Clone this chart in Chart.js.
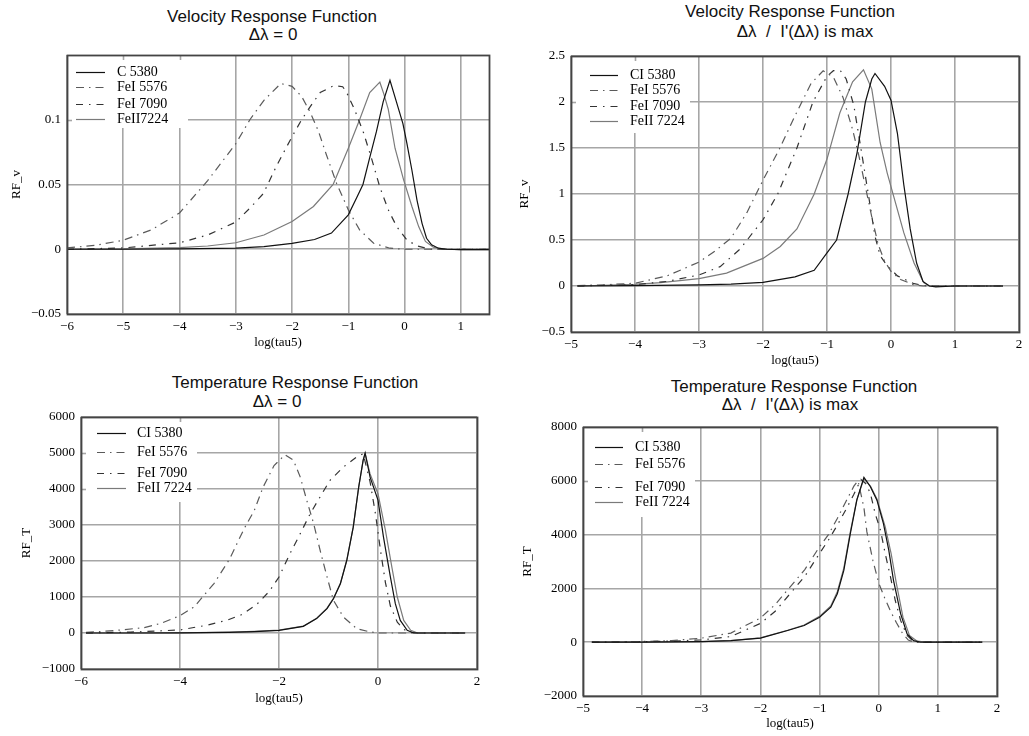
<!DOCTYPE html>
<html>
<head>
<meta charset="utf-8">
<title>Response Functions</title>
<script src="https://cdn.jsdelivr.net/npm/chart.js@4.4.1/dist/chart.umd.min.js"></script>
<style>
  html, body { margin: 0; padding: 0; background: #fff; overflow: hidden; }
  body { width: 1029px; height: 736px; position: relative; }
  .panel { position: absolute; }
  .ttl { position: absolute; transform: translate(-50%, -50%); white-space: pre;
         font: 17px "Liberation Sans", Arial, sans-serif; color: #111; }
</style>
</head>
<body>

<div class="ttl" style="left:272px;top:17px">Velocity Response Function</div>
<div class="ttl" style="left:273px;top:35px">Δλ = 0</div>
<div class="ttl" style="left:790px;top:12px">Velocity Response Function</div>
<div class="ttl" style="left:805px;top:32px">Δλ  /  I'(Δλ) is max</div>
<div class="ttl" style="left:295px;top:383px">Temperature Response Function</div>
<div class="ttl" style="left:277px;top:402px">Δλ = 0</div>
<div class="ttl" style="left:794px;top:387px">Temperature Response Function</div>
<div class="ttl" style="left:790px;top:405px">Δλ  /  I'(Δλ) is max</div>

<div class="panel" style="left:9px;top:39px;width:492px;height:311px"><canvas id="velZero"></canvas></div>
<div class="panel" style="left:517px;top:40px;width:514px;height:328px"><canvas id="velMax"></canvas></div>
<div class="panel" style="left:19px;top:401px;width:470px;height:305px"><canvas id="tempZero"></canvas></div>
<div class="panel" style="left:520px;top:411px;width:489px;height:320px"><canvas id="tempMax"></canvas></div>

<script>
// ---- legend labels ----
const labelsVelZero = ["C 5380", "FeI 5576", "FeI 7090", "FeII7224"];
const labelsOther = ["CI 5380", "FeI 5576", "FeI 7090", "FeII 7224"];

// ---- tick values ----
const velZeroXTicks = [-6, -5, -4, -3, -2, -1, 0, 1];
const velZeroYTicks = [-0.05, 0, 0.05, 0.1];
const velMaxXTicks = [-5, -4, -3, -2, -1, 0, 1, 2];
const velMaxYTicks = [-0.5, 0, 0.5, 1, 1.5, 2, 2.5];
const tempZeroXTicks = [-6, -4, -2, 0, 2];
const tempZeroYTicks = [-1000, 0, 1000, 2000, 3000, 4000, 5000, 6000];
const tempMaxXTicks = [-5, -4, -3, -2, -1, 0, 1, 2];
const tempMaxYTicks = [-2000, 0, 2000, 4000, 6000, 8000];

// ---- Velocity RF, dl = 0 ----
const velZeroX_ci = [-6, -5, -4, -3, -2.5, -2, -1.6, -1.3, -1, -0.85, -0.74, -0.63, -0.5, -0.38, -0.26, -0.14, -0.03, 0.04, 0.13, 0.22, 0.31, 0.39, 0.48, 0.6, 0.75, 1, 1.5];
const velZeroY_ci = [0, 0, 0.0003, 0.0008, 0.002, 0.0046, 0.0075, 0.0125, 0.0266, 0.04, 0.05, 0.069, 0.091, 0.114, 0.1305, 0.113, 0.097, 0.082, 0.061, 0.038, 0.02, 0.0085, 0.0034, 0.0008, 0, -0.0003, -0.0003];
const velZeroX_fe5576 = [-6, -5.5, -5, -4.5, -4, -3.5, -3, -2.75, -2.5, -2.2, -2, -1.83, -1.68, -1.53, -1.39, -1.21, -1, -0.8, -0.55, -0.26, 0, 0.5, 1.5];
const velZeroY_fe5576 = [0.001, 0.003, 0.007, 0.015, 0.028, 0.053, 0.0815, 0.1, 0.115, 0.128, 0.1258, 0.118, 0.106, 0.091, 0.073, 0.051, 0.0304, 0.015, 0.0046, 0.0008, 0, 0, 0];
const velZeroX_fe7090 = [-6, -5, -4, -3.5, -3, -2.75, -2.51, -2.28, -2, -1.83, -1.68, -1.5, -1.25, -1.1, -1.03, -0.89, -0.73, -0.58, -0.44, -0.29, -0.14, 0.04, 0.22, 0.45, 1.5];
const velZeroY_fe7090 = [0, 0.001, 0.005, 0.011, 0.021, 0.0317, 0.043, 0.064, 0.087, 0.1, 0.11, 0.121, 0.1265, 0.1255, 0.121, 0.108, 0.09, 0.069, 0.048, 0.0304, 0.0175, 0.0072, 0.0026, 0, 0];
const velZeroX_fe2 = [-6, -5, -4, -3.5, -3, -2.5, -2, -1.62, -1.27, -1, -0.8, -0.62, -0.44, -0.37, -0.29, -0.17, -0.02, 0.13, 0.25, 0.37, 0.51, 0.69, 1, 1.5];
const velZeroY_fe2 = [0, 0.0003, 0.0012, 0.0025, 0.005, 0.011, 0.0214, 0.033, 0.05, 0.078, 0.1, 0.121, 0.129, 0.12, 0.108, 0.078, 0.054, 0.033, 0.0175, 0.006, 0.0015, 0, -0.0003, -0.0003];

// ---- Velocity RF, dl where I'(dl) is max ----
const velMaxX_ci = [-4.9, -4, -3, -2.5, -2, -1.5, -1.2, -1, -0.85, -0.67, -0.53, -0.4, -0.3, -0.25, -0.1, 0, 0.1, 0.2, 0.3, 0.4, 0.5, 0.6, 0.7, 1, 1.75];
const velMaxY_ci = [0, 0.005, 0.012, 0.02, 0.04, 0.1, 0.17, 0.36, 0.5, 1, 1.45, 2, 2.25, 2.31, 2.17, 2.02, 1.66, 1.1, 0.62, 0.25, 0.05, 0, -0.01, 0, 0];
const velMaxX_fe5576 = [-4.9, -4.5, -4, -3.5, -3, -2.75, -2.5, -2.25, -2, -1.75, -1.5, -1.25, -1.06, -0.9, -0.75, -0.6, -0.5, -0.4, -0.3, -0.2, -0.1, 0, 0.15, 0.35, 0.5, 1, 1.75];
const velMaxY_fe5576 = [0.005, 0.012, 0.03, 0.11, 0.26, 0.38, 0.52, 0.8, 1.15, 1.48, 1.85, 2.2, 2.34, 2.27, 2.05, 1.7, 1.41, 1.08, 0.75, 0.45, 0.27, 0.16, 0.07, 0.015, 0, 0, 0];
const velMaxX_fe7090 = [-4.9, -4, -3.5, -3, -2.67, -2.36, -2, -1.77, -1.47, -1.22, -1, -0.9, -0.79, -0.7, -0.58, -0.45, -0.35, -0.25, -0.17, -0.06, 0.1, 0.36, 0.57, 1, 1.75];
const velMaxY_fe7090 = [0, 0.015, 0.05, 0.12, 0.21, 0.4, 0.72, 1, 1.5, 2, 2.28, 2.34, 2.34, 2.25, 1.96, 1.41, 0.98, 0.54, 0.33, 0.22, 0.11, 0.025, 0, 0, 0];
const velMaxX_fe2 = [-4.9, -4, -3.6, -3, -2.57, -2, -1.73, -1.47, -1.2, -1, -0.8, -0.6, -0.43, -0.3, -0.17, -0.06, 0.04, 0.2, 0.36, 0.51, 0.6, 1, 1.75];
const velMaxY_fe2 = [0, 0.018, 0.036, 0.08, 0.14, 0.3, 0.43, 0.62, 1, 1.38, 1.88, 2.22, 2.35, 2.14, 1.56, 1.23, 0.98, 0.58, 0.25, 0.036, 0, 0, 0];

// ---- Temperature RF, dl = 0 ----
const tempZeroX_ci = [-5.9, -5, -4, -3, -2.5, -2, -1.51, -1.24, -1.03, -0.9, -0.76, -0.63, -0.5, -0.39, -0.3, -0.26, -0.16, 0, 0.11, 0.25, 0.35, 0.45, 0.59, 0.72, 1, 1.76];
const tempZeroY_ci = [0, 0, 5, 20, 40, 75, 185, 400, 675, 950, 1370, 2020, 2940, 4055, 4800, 5000, 4330, 3690, 2670, 1560, 815, 350, 75, 0, 0, 0];
const tempZeroX_fe5576 = [-5.9, -5.5, -5.19, -4.72, -4.38, -4, -3.71, -3.31, -3, -2.7, -2.5, -2.32, -2.1, -1.88, -1.71, -1.57, -1.44, -1.3, -1.17, -1.03, -0.9, -0.7, -0.43, -0.16, 0, 1, 1.76];
const tempZeroY_fe5576 = [20, 50, 85, 150, 270, 480, 730, 1380, 2050, 2910, 3400, 4055, 4650, 4950, 4800, 4330, 3690, 3040, 2300, 1560, 910, 445, 120, 30, 0, 0, 0];
const tempZeroX_fe7090 = [-5.9, -5, -4.72, -4, -3.44, -3.04, -2.77, -2.46, -2.2, -2, -1.78, -1.57, -1.37, -1.17, -0.97, -0.7, -0.43, -0.3, -0.16, -0.05, 0.05, 0.15, 0.25, 0.39, 0.52, 0.66, 0.8, 1.76];
const tempZeroY_fe7090 = [0, 25, 40, 85, 220, 360, 500, 780, 1150, 1555, 2200, 2760, 3315, 3780, 4240, 4610, 4890, 4980, 4200, 3300, 2300, 1400, 750, 300, 100, 20, 0, 0];
const tempZeroX_fe2 = [-5.9, -5, -4, -3, -2.5, -2, -1.51, -1.24, -1.03, -0.9, -0.76, -0.63, -0.5, -0.39, -0.3, -0.26, -0.16, 0, 0.15, 0.28, 0.39, 0.52, 0.66, 0.8, 1, 1.76];
const tempZeroY_fe2 = [0, 0, 5, 25, 45, 80, 190, 410, 690, 960, 1380, 2030, 2950, 4050, 4790, 4980, 4420, 3870, 2850, 1830, 1000, 350, 75, 0, 0, 0];

// ---- Temperature RF, dl where I'(dl) is max ----
const tempMaxX_ci = [-4.85, -4, -3, -2.5, -2, -1.54, -1.26, -1, -0.81, -0.7, -0.59, -0.48, -0.37, -0.25, -0.14, -0.03, 0.08, 0.17, 0.25, 0.37, 0.48, 0.59, 0.7, 1, 1.75];
const tempMaxY_ci = [0, 0, 25, 60, 150, 435, 620, 930, 1300, 1800, 2670, 4040, 5280, 6125, 5780, 5280, 4410, 3420, 2300, 1060, 310, 60, 0, 0, 0];
const tempMaxX_fe5576 = [-4.85, -4, -3.5, -3, -2.5, -2, -1.75, -1.5, -1.25, -1, -0.85, -0.7, -0.55, -0.42, -0.35, -0.25, -0.2, -0.1, 0, 0.1, 0.2, 0.3, 0.4, 0.5, 0.6, 1, 1.75];
const tempMaxY_fe5576 = [0, 25, 60, 150, 340, 900, 1400, 2050, 2700, 3550, 4000, 4600, 5250, 5800, 6000, 5000, 4100, 3050, 2200, 1650, 1150, 720, 340, 80, 0, 0, 0];
const tempMaxX_fe7090 = [-4.85, -4, -3.5, -3, -2.5, -2, -1.75, -1.5, -1.25, -1, -0.85, -0.7, -0.55, -0.42, -0.3, -0.22, -0.14, -0.06, 0.03, 0.11, 0.2, 0.28, 0.37, 0.48, 0.6, 1, 1.75];
const tempMaxY_fe7090 = [0, 20, 40, 85, 210, 700, 1150, 1800, 2450, 3300, 3800, 4350, 4950, 5500, 6050, 5900, 5530, 4780, 4160, 3290, 2420, 1550, 810, 250, 0, 0, 0];
const tempMaxX_fe2 = [-4.85, -4, -3, -2.5, -2, -1.54, -1.26, -1, -0.81, -0.7, -0.59, -0.48, -0.37, -0.25, -0.14, -0.03, 0.11, 0.21, 0.3, 0.41, 0.52, 0.65, 0.8, 1, 1.75];
const tempMaxY_fe2 = [0, 0, 25, 60, 160, 445, 640, 960, 1350, 1880, 2750, 4100, 5300, 6080, 5800, 5320, 4290, 3290, 2170, 930, 250, 40, 0, 0, 0];

// line look per series: CI, FeI 5576, FeI 7090, FeII
const STYLES = [
    { color: "#111111", dash: [] },
    { color: "#5a5a5a", dash: [8, 5, 1.5, 5] },
    { color: "#333333", dash: [7, 6, 1.5, 6] },
    { color: "#7a7a7a", dash: [] }
];
const GRID = "#a6a6a6";
const SERIF = "'Liberation Serif', 'Times New Roman', serif";

const minus = v => String(v).replace("-", "\u2212");

// white key box in the upper left corner of the plot, plus the plot frame
const frameKey = {
    id: "frameKey",
    beforeDatasetsDraw(chart, args, opts) {
        const { ctx, chartArea: a } = chart;
        const k = opts.key;
        ctx.save();
        ctx.fillStyle = "#fff";
        ctx.fillRect(a.left, a.top, k.w, k.h);

        // the short inner ticks stay visible over the box
        ctx.strokeStyle = GRID;
        ctx.lineWidth = 1.6;
        chart.scales.x.ticks.forEach(t => {
            const px = Math.round(chart.scales.x.getPixelForValue(t.value)) + 0.5;
            if (px > a.left + 2 && px < a.left + k.w) {
                ctx.beginPath(); ctx.moveTo(px, a.top); ctx.lineTo(px, a.top + 5); ctx.stroke();
            }
        });
        chart.scales.y.ticks.forEach(t => {
            const py = Math.round(chart.scales.y.getPixelForValue(t.value)) + 0.5;
            if (py > a.top + 2 && py < a.top + k.h) {
                ctx.beginPath(); ctx.moveTo(a.left, py); ctx.lineTo(a.left + 5, py); ctx.stroke();
            }
        });

        ctx.font = "14px " + SERIF;
        ctx.textBaseline = "middle";
        chart.data.datasets.forEach((ds, i) => {
            const y = Math.round(a.top + k.rows[i]) + 0.5;
            ctx.strokeStyle = ds.borderColor;
            ctx.lineWidth = ds.borderWidth;
            ctx.setLineDash(ds.borderDash);
            ctx.beginPath();
            ctx.moveTo(a.left + k.x0, y);
            ctx.lineTo(a.left + k.x1, y);
            ctx.stroke();
            ctx.setLineDash([]);
            ctx.fillStyle = "#000";
            ctx.fillText(ds.label, a.left + k.tx, y);
        });
        ctx.restore();
    },
    afterDatasetsDraw(chart) {
        const { ctx, chartArea: a } = chart;
        ctx.save();
        ctx.strokeStyle = "#444";
        ctx.lineWidth = 1.8;
        ctx.strokeRect(Math.round(a.left) + 0.5, Math.round(a.top) + 0.5,
            Math.round(a.right - a.left), Math.round(a.bottom - a.top));
        ctx.restore();
    }
};

function makePanel(id, p) {
    const datasets = p.xs.map((xs, i) => ({
        label: p.labels[i],
        data: xs.map((x, j) => ({ x: x, y: p.ys[i][j] })),
        borderColor: STYLES[i].color,
        borderDash: STYLES[i].dash,
        borderWidth: 1.2,
        pointRadius: 0,
        tension: 0,
        fill: false
    }));

    const tickFont = { family: SERIF, size: 13 };

    new Chart(document.getElementById(id), {
        type: "line",
        data: { datasets: datasets },
        options: {
            animation: false,
            responsive: true,
            maintainAspectRatio: false,
            layout: { padding: { left: 0, top: 16, right: 12, bottom: 0 } },
            plugins: {
                legend: { display: false },
                tooltip: { enabled: false },
                frameKey: { key: p.key }
            },
            scales: {
                x: {
                    type: "linear",
                    min: p.xMin,
                    max: p.xMax,
                    afterBuildTicks: s => { s.ticks = p.xTicks.map(v => ({ value: v })); },
                    afterFit: s => { s.height = p.xAxisH; },
                    grid: { color: GRID, lineWidth: 1.6, drawTicks: false },
                    border: { display: false },
                    ticks: { font: tickFont, color: "#000", padding: 5, maxRotation: 0, autoSkip: false, callback: minus },
                    title: { display: true, text: "log(tau5)", font: tickFont, color: "#000", padding: 0 }
                },
                y: {
                    type: "linear",
                    min: p.yMin,
                    max: p.yMax,
                    afterBuildTicks: s => { s.ticks = p.yTicks.map(v => ({ value: v })); },
                    afterFit: s => { s.width = p.yAxisW; },
                    grid: { color: GRID, lineWidth: 1.6, drawTicks: false },
                    border: { display: false },
                    ticks: { font: tickFont, color: "#000", padding: 6, autoSkip: false, callback: minus },
                    title: { display: true, text: p.yTitle, font: tickFont, color: "#000", padding: 0 }
                }
            }
        },
        plugins: [frameKey]
    });
}

makePanel("velZero", {
    labels: labelsVelZero,
    xs: [velZeroX_ci, velZeroX_fe5576, velZeroX_fe7090, velZeroX_fe2],
    ys: [velZeroY_ci, velZeroY_fe5576, velZeroY_fe7090, velZeroY_fe2],
    xMin: -6, xMax: 1.5, yMin: -0.05, yMax: 0.15,
    xTicks: velZeroXTicks, yTicks: velZeroYTicks,
    yTitle: "RF_v", yAxisW: 58, xAxisH: 36,
    key: { w: 121, h: 73, x0: 9, x1: 38, tx: 50, rows: [17, 32, 49, 64] }
});

makePanel("velMax", {
    labels: labelsOther,
    xs: [velMaxX_ci, velMaxX_fe5576, velMaxX_fe7090, velMaxX_fe2],
    ys: [velMaxY_ci, velMaxY_fe5576, velMaxY_fe7090, velMaxY_fe2],
    xMin: -5, xMax: 2, yMin: -0.5, yMax: 2.5,
    xTicks: velMaxXTicks, yTicks: velMaxYTicks,
    yTitle: "RF_v", yAxisW: 54, xAxisH: 36,
    key: { w: 119, h: 77, x0: 19, x1: 47, tx: 59, rows: [19, 34, 50, 65] }
});

makePanel("tempZero", {
    labels: labelsOther,
    xs: [tempZeroX_ci, tempZeroX_fe5576, tempZeroX_fe7090, tempZeroX_fe2],
    ys: [tempZeroY_ci, tempZeroY_fe5576, tempZeroY_fe7090, tempZeroY_fe2],
    xMin: -6, xMax: 2, yMin: -1000, yMax: 6000,
    xTicks: tempZeroXTicks, yTicks: tempZeroYTicks,
    yTitle: "RF_T", yAxisW: 62, xAxisH: 37,
    key: { w: 116, h: 85, x0: 16, x1: 45, tx: 56, rows: [16, 35, 56, 71] }
});

makePanel("tempMax", {
    labels: labelsOther,
    xs: [tempMaxX_ci, tempMaxX_fe5576, tempMaxX_fe7090, tempMaxX_fe2],
    ys: [tempMaxY_ci, tempMaxY_fe5576, tempMaxY_fe7090, tempMaxY_fe2],
    xMin: -5, xMax: 2, yMin: -2000, yMax: 8000,
    xTicks: tempMaxXTicks, yTicks: tempMaxYTicks,
    yTitle: "RF_T", yAxisW: 63, xAxisH: 35,
    key: { w: 112, h: 90, x0: 12, x1: 40, tx: 52, rows: [20, 37, 60, 75] }
});
</script>
</body>
</html>
